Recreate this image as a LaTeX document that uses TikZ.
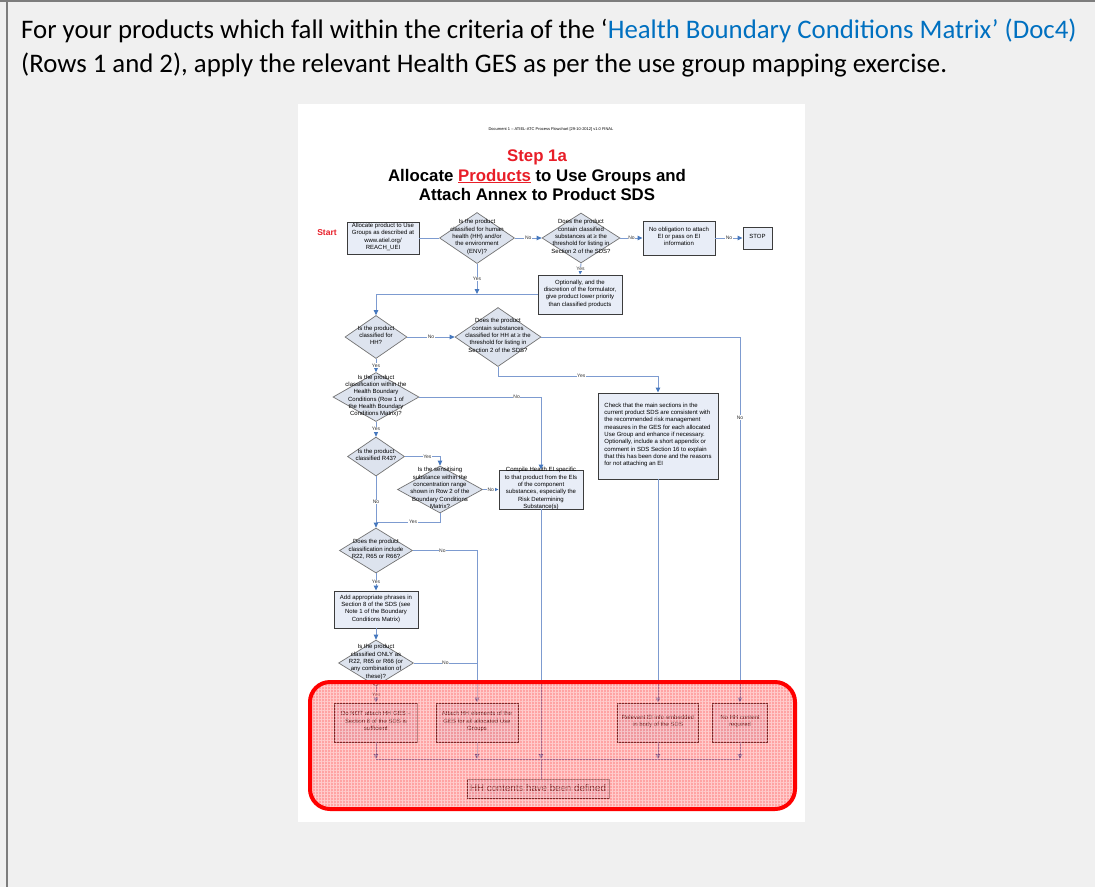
\documentclass[tikz,border=0pt]{standalone}
\usepackage{fontspec}
\setmainfont{Carlito}
\newfontfamily\arialfont{Liberation Sans}
\usetikzlibrary{shapes.geometric,arrows.meta,patterns.meta}

\definecolor{pagebg}{RGB}{240,240,240}
\definecolor{frameline}{RGB}{125,125,125}
\definecolor{linkblue}{RGB}{0,112,192}
\definecolor{flowline}{RGB}{125,155,208}
\definecolor{tipblue}{RGB}{70,120,190}
\definecolor{boxfill}{RGB}{232,237,247}
\definecolor{boxline}{RGB}{60,60,60}
\definecolor{diafill}{RGB}{221,227,238}
\definecolor{dialine}{RGB}{115,115,115}
\definecolor{stepred}{RGB}{232,30,40}

% small flowchart lettering
\newcommand\flowfont{\arialfont\fontsize{6}{7.3}\selectfont}
% text block that does not enlarge its shape
\newcommand\ztext[1]{\makebox[0pt][c]{\raisebox{-1.2pt}{\smash{\begin{tabular}{@{}c@{}}#1\end{tabular}}}}}
\newcommand\ztextl[1]{\makebox[0pt][c]{\raisebox{-1.2pt}{\smash{\begin{tabular}{@{}l@{}}#1\end{tabular}}}}}
% thick underline in the title
\newcommand\thickul[1]{\setbox0\hbox{#1}\rlap{\rule[-2.2pt]{\wd0}{1.4pt}}\box0}

\tikzset{
  fbox/.style={rectangle, draw=boxline, fill=boxfill, line width=0.9pt, inner sep=0pt, font=\flowfont},
  dia/.style={diamond, draw=dialine, fill=diafill, line width=0.7pt, inner sep=0pt, font=\flowfont},
  flow/.style={draw=flowline, line width=0.9pt},
  arr/.style={flow, -{Triangle[length=5pt,width=4.5pt,color=tipblue]}},
  lab/.style={font=\arialfont\fontsize{5}{5}\selectfont, fill=white, inner sep=0.6pt, text=black!80},
}

\begin{document}
\begin{tikzpicture}[x=1pt,y=-1pt]
\useasboundingbox (0,0) rectangle (1095,887);
\fill[pagebg] (0,0) rectangle (1095,887);
\draw[frameline, line width=1.5pt] (0,1) -- (1095,1);
\draw[frameline, line width=1.5pt] (7,0) -- (7,887);

% introductory sentence
\node[anchor=base west, inner sep=0pt, font=\fontsize{26.8}{32}\selectfont] (intro1) at (21,38)
  {For your products which fall within the criteria of the ‘\textcolor{linkblue}{Health Boundary Conditions Matrix’ (Doc4)}};
\node[anchor=base west, inner sep=0pt, font=\fontsize{26.8}{32}\selectfont] (intro2) at (21,72)
  {(Rows 1 and 2), apply the relevant Health GES as per the use group mapping exercise.};

% the flowchart page
\fill[white] (298,104) rectangle (805,822);

\node[font=\arialfont\fontsize{4}{5}\selectfont, inner sep=0pt] (docref) at (551,129)
  {Document 1 – ATIEL-ATC Process Flowchart [29-10-2012] v1.0 FINAL};
\node[anchor=base, inner sep=0pt, text=stepred, font=\arialfont\bfseries\fontsize{16.8}{20}\selectfont] (steptitle) at (537,161) {Step 1a};
\node[anchor=base, inner sep=0pt, font=\arialfont\bfseries\fontsize{16.8}{20}\selectfont] (title1) at (537,181)
  {Allocate \textcolor{stepred}{\thickul{Products}} to Use Groups and};
\node[anchor=base, inner sep=0pt, font=\arialfont\bfseries\fontsize{16.8}{20}\selectfont] (title2) at (537,200)
  {Attach Annex to Product SDS};

\node[text=stepred, inner sep=0pt, font=\arialfont\bfseries\fontsize{8.5}{10}\selectfont] (start) at (327,233) {Start};

% top row
\node[fbox, minimum width=72pt, minimum height=32pt] (alloc) at (383,238)
  {\ztext{Allocate product to Use\\Groups as described at\\www.atiel.org/\\REACH\_UEI}};
\node[dia, minimum width=75pt, minimum height=51pt] (d1) at (477,238)
  {\ztext{Is the product\\classified for human\\health (HH) and/or\\the environment\\(ENV)?}};
\node[dia, minimum width=78pt, minimum height=50pt] (d2) at (581,238)
  {\ztext{Does the product\\contain classified\\substances at ≥ the\\threshold for listing in\\Section 2 of the SDS?}};
\node[fbox, minimum width=72pt, minimum height=34pt] (noob) at (679,238)
  {\ztext{No obligation to attach\\EI or pass on EI\\information}};
\node[fbox, minimum width=29pt, minimum height=22pt] (stop) at (757.5,238) {\ztext{STOP}};
\node[fbox, minimum width=84pt, minimum height=39pt] (opt) at (580,294.5)
  {\ztext{Optionally, and the\\discretion of the formulator,\\give product lower priority\\than classified products}};

% health branch
\node[dia, minimum width=62pt, minimum height=43pt] (d3) at (376,337)
  {\ztext{Is the product\\classified for\\HH?}};
\node[dia, minimum width=86pt, minimum height=59pt] (d4) at (498,337)
  {\ztext{Does the product\\contain substances\\classified for HH at ≥ the\\threshold for listing in\\Section 2 of the SDS?}};
\node[fbox, minimum width=120pt, minimum height=86pt] (check) at (658,436)
  {\ztextl{Check that the main sections in the\\current product SDS are consistent with\\the recommended risk management\\measures in the GES for each allocated\\Use Group and enhance if necessary.\\Optionally, include a short appendix or\\comment in SDS Section 16 to explain\\that this has been done and the reasons\\for not attaching an EI}};
\node[dia, minimum width=86pt, minimum height=49pt] (d5) at (376,397)
  {\ztext{Is the product\\classification within the\\Health Boundary\\Conditions (Row 1 of\\the Health Boundary\\Conditions Matrix)?}};
\node[dia, minimum width=57pt, minimum height=39pt] (d6) at (376,456.5)
  {\ztext{Is the product\\classified R43?}};
\node[dia, minimum width=85pt, minimum height=47pt] (d7) at (440,489.5)
  {\ztext{Is the sensitising\\substance within the\\concentration range\\shown in Row 2 of the\\Boundary Conditions\\Matrix?}};
\node[fbox, minimum width=84pt, minimum height=39pt] (compile) at (541,489.5)
  {\ztext{Compile Health EI specific\\to that product from the EIs\\of the component\\substances, especially the\\Risk Determining\\Substance(s)}};
\node[dia, minimum width=73pt, minimum height=45pt] (d8) at (376,550.5)
  {\ztext{Does the product\\classification include\\R22, R65 or R66?}};
\node[fbox, minimum width=84pt, minimum height=37pt] (addph) at (376,609.5)
  {\ztext{Add appropriate phrases in\\Section 8 of the SDS (see\\Note 1 of the Boundary\\Conditions Matrix)}};
\node[dia, minimum width=75pt, minimum height=46pt] (d9) at (376,663)
  {\ztext{Is the product\\classified ONLY as\\R22, R65 or R66 (or\\any combination of\\these)?}};

% outcomes
\node[fbox, minimum width=83pt, minimum height=39pt] (outA) at (376,722.5)
  {\ztext{Do NOT attach HH GES –\\Section 8 of the SDS is\\sufficient}};
\node[fbox, minimum width=82pt, minimum height=39pt] (outB) at (477,722.5)
  {\ztext{Attach HH elements of the\\GES for all allocated Use\\Groups}};
\node[fbox, minimum width=81pt, minimum height=39pt] (outC) at (658,722.5)
  {\ztext{Relevant EI info embedded\\in body of the SDS}};
\node[fbox, minimum width=55pt, minimum height=39pt] (outD) at (740,722.5)
  {\ztext{No HH content\\required}};
\node[fbox, minimum width=142pt, minimum height=19pt, font=\arialfont\fontsize{9.7}{11}\selectfont, text=black!75] (final) at (538,788.5)
  {HH contents have been defined};

% bend and junction points
\coordinate (j1) at (477,294);
\coordinate (j3) at (498,376);
\coordinate (j4) at (376,522);
\coordinate (j5) at (477,663);
\coordinate (mline) at (541,759);

% connectors
\draw[flow] (alloc.east) -- (d1.west);
\draw[arr] (d1.east) -- node[lab]{No} (d2.west);
\draw[arr] (d2.east) -- node[lab]{No} (noob.west);
\draw[arr] (noob.east) -- node[lab]{No} (stop.west);
\draw[arr] (d2.south) -- node[lab]{Yes} (opt.north);
\draw[arr] (d1.south) -- node[lab]{Yes} (j1);
\draw[arr] (opt.west) -| (d3.north);
\draw[arr] (d3.east) -- node[lab]{No} (d4.west);
\draw[arr] (d4.east) -| node[lab, pos=0.61]{No} (outD.north);
\draw[arr] (d4.south) -- (j3) -| node[lab, pos=0.26]{Yes} (check.north);
\draw[arr] (check.south) -- (outC.north);
\draw[arr] (d3.south) -- node[lab]{Yes} (d5.north);
\draw[arr] (d5.east) -| node[lab, pos=0.4]{No} (compile.north);
\draw[arr] (d5.south) -- node[lab]{Yes} (d6.north);
\draw[arr] (d6.east) -| node[lab, pos=0.32]{Yes} (d7.north);
\draw[arr] (d7.east) -- node[lab]{No} (compile.west);
\draw[flow] (d7.south) |- node[lab, pos=0.71]{Yes} (j4);
\draw[arr] (d6.south) -- node[lab]{No} (d8.north);
\draw[arr] (d8.east) -| node[lab, pos=0.23]{No} (outB.north);
\draw[arr] (d8.south) -- node[lab]{Yes} (addph.north);
\draw[arr] (addph.south) -- (d9.north);
\draw[flow] (d9.east) -- node[lab]{No} (j5);
\draw[arr] (d9.south) -- node[lab]{Yes} (outA.north);

% merging into the final step
\draw[arr] (compile.south) -- (mline);
\draw[arr] (outA.south) -- (outA.south |- mline);
\draw[arr] (outB.south) -- (outB.south |- mline);
\draw[arr] (outC.south) -- (outC.south |- mline);
\draw[arr] (outD.south) -- (outD.south |- mline);
\draw[flow] (outA.south |- mline) -- (outD.south |- mline);
\draw[flow] (mline) -- (mline |- final.north);

% highlighted outcome band
\fill[red, opacity=0.36, rounded corners=20pt] (310,682) rectangle (795,809);
\fill[pattern={Hatch[angle=0,distance=3pt,line width=0.7pt]}, pattern color=white, opacity=0.45, rounded corners=20pt] (310,682) rectangle (795,809);
\draw[red, line width=4pt, rounded corners=20pt] (310,682) rectangle (795,809);
\end{tikzpicture}
\end{document}
